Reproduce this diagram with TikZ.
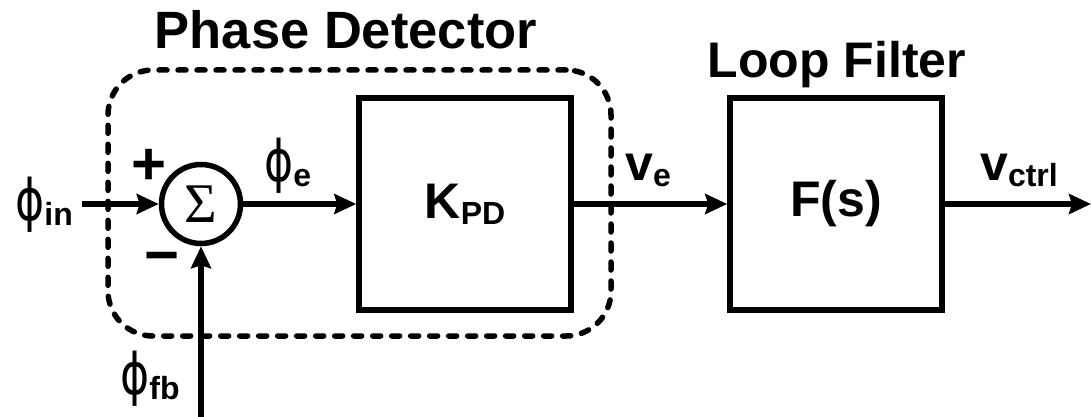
\documentclass[tikz,border=0pt]{standalone}
\usepackage{fontspec}
\setmainfont{Liberation Sans}
\newfontfamily\phifont{DejaVu Sans}
\newfontfamily\sigfont{Liberation Serif}
\usetikzlibrary{arrows.meta}
\newcommand\bigf{\bfseries\fontsize{50}{50}\selectfont}
\newcommand\subf{\bfseries\fontsize{32}{32}\selectfont}
\newcommand\phisym[1]{\scalebox{0.85}[1.1]{\phifont\mdseries\fontsize{52}{52}\selectfont ϕ}\raisebox{-5pt}{\subf #1}}
\newcommand\vsym[1]{{\bigf v}\raisebox{-6pt}{\subf #1}}
\begin{document}
\begin{tikzpicture}[x=1pt,y=-1pt,
  wire/.style={line width=5.5pt,-{Stealth[length=22pt,width=20pt,inset=3pt]}},
  blockbox/.style={draw,line width=5.5pt,minimum width=212pt,minimum height=212pt,inner sep=0pt,font=\bigf},
  sumnode/.style={circle,draw,line width=5.5pt,minimum size=79pt,inner sep=0pt},
  pdbox/.style={draw,line width=5.5pt,line cap=round,dash pattern=on 8pt off 11pt,rounded corners=45pt,minimum width=503pt,minimum height=266pt,inner sep=0pt},
  lbl/.style={inner sep=0pt,font=\bigf},
  sgn/.style={inner sep=0pt,font=\bfseries\fontsize{60}{60}\selectfont}]
\useasboundingbox (0,0) rectangle (1091,417);
\node[pdbox] (pd) at (359.5,203) {};
\node[sumnode] (sum) at (201,204) {\sigfont\fontsize{56}{56}\selectfont Σ};
\node[blockbox] (kpd) at (465,204) {K\raisebox{-6pt}{\subf PD}};
\node[blockbox] (fs) at (836,204) {F(s)};
\coordinate (in) at (82,204);
\coordinate (fb) at (201,417);
\coordinate (out) at (1091,204);
\draw[wire] (in) -- (sum);
\draw[wire] (fb) -- (sum);
\draw[wire] (sum) -- (kpd);
\draw[wire] (kpd) -- (fs);
\draw[wire] (fs) -- (out);
\node[lbl,anchor=base,font=\bfseries\fontsize{52.5}{52.5}\selectfont] (pdl) at (346,49) {Phase Detector};
\node[lbl,anchor=base] (lfl) at (837,78) {Loop Filter};
\node[lbl,anchor=base west] (phin) at (15,220) {\phisym{in}};
\node[lbl,anchor=base west] (phie) at (264,181) {\phisym{e}};
\node[lbl,anchor=base west] (phifb) at (120,394) {\phisym{fb}};
\node[lbl,anchor=base west] (ve) at (625,180) {\vsym{e}};
\node[lbl,anchor=base west] (vctrl) at (980,180) {\vsym{ctrl}};
\node[sgn,anchor=base] (plus) at (149,184) {+};
\node[sgn,anchor=base] (minus) at (162,275) {−};
\end{tikzpicture}
\end{document}
